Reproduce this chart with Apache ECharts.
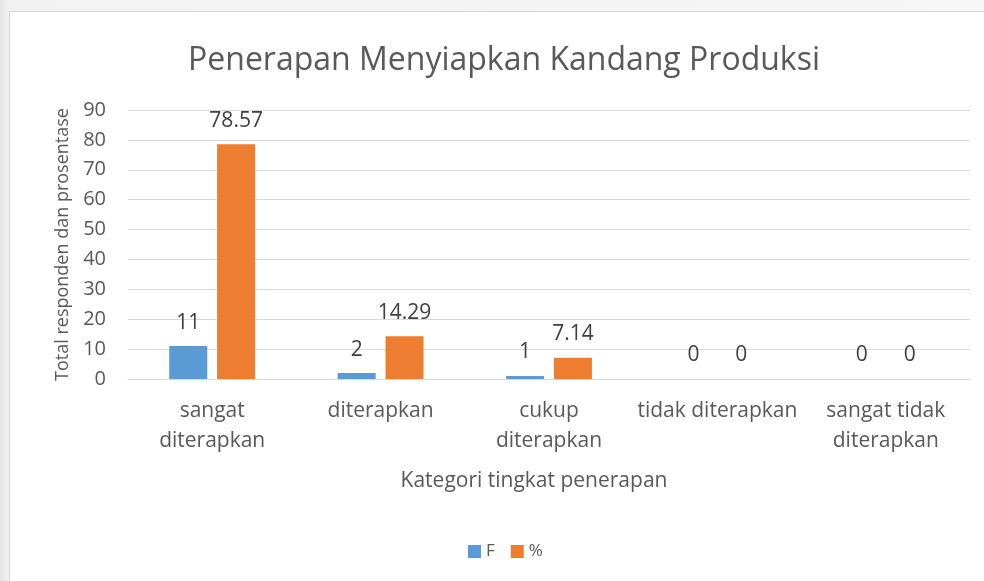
<!DOCTYPE html>
<html>
<head>
<meta charset="utf-8">
<script src="https://cdn.jsdelivr.net/npm/echarts@6/dist/echarts.min.js"></script>
<style>
  html, body { margin: 0; padding: 0; width: 984px; height: 581px; overflow: hidden; }
  body { background: linear-gradient(to right, #e4e4e4 0px, #f2f2f2 9px, #f6f6f6 100%); position: relative; }
  #frame { position: absolute; left: 9px; top: 11px; width: 990px; height: 590px; background: #fff; border-left: 1px solid #d6d6d6; border-top: 1px solid #d6d6d6; }
  #chart { position: absolute; left: 0; top: 0; width: 984px; height: 581px; }
</style>
</head>
<body>
<div id="frame"></div>
<div id="chart"></div>
<script>
const categories = ['sangat\nditerapkan', 'diterapkan', 'cukup\nditerapkan', 'tidak diterapkan', 'sangat tidak\nditerapkan'];
const seriesF = [11, 2, 1, 0, 0];
const seriesPct = [78.57, 14.29, 7.14, 0, 0];
const seriesNames = ['F', '%'];
const titleText = 'Penerapan Menyiapkan Kandang Produksi';
const yAxisTitle = 'Total responden dan prosentase';
const xAxisTitle = 'Kategori tingkat penerapan';

const FONT = '"Open Sans", sans-serif';
const chart = echarts.init(document.getElementById('chart'), null, { renderer: 'canvas' });
const labelStyle = { show: true, position: 'top', distance: 13, color: '#404040', fontSize: 21, fontFamily: FONT };
chart.setOption({
  backgroundColor: 'transparent',
  animation: false,
  textStyle: { fontFamily: FONT },
  graphic: [
    { type: 'text', x: 504, y: 61, style: { text: titleText, fill: '#595959', font: '32px ' + FONT, textAlign: 'center', textVerticalAlign: 'middle' } },
    { type: 'text', x: 534, y: 481, style: { text: xAxisTitle, fill: '#595959', font: '21px ' + FONT, textAlign: 'center', textVerticalAlign: 'middle' } }
  ],
  legend: {
    data: seriesNames,
    left: 463, top: 538,
    itemWidth: 13, itemHeight: 13, itemGap: 16,
    icon: 'rect',
    textStyle: { color: '#595959', fontSize: 17, fontFamily: FONT, padding: [0, 0, 0, 0] }
  },
  grid: { left: 128, right: 14, top: 110, bottom: 202, containLabel: false },
  xAxis: {
    type: 'category',
    data: categories,
    axisLine: { show: true, lineStyle: { color: '#d9d9d9', width: 1 } },
    axisTick: { show: false },
    axisLabel: { color: '#595959', fontSize: 21, fontFamily: FONT, lineHeight: 30, margin: 17, interval: 0 }
  },
  yAxis: {
    type: 'value',
    min: 0, max: 90, interval: 10,
    name: yAxisTitle,
    nameLocation: 'middle',
    nameGap: 56,
    nameTextStyle: { color: '#595959', fontSize: 18, fontFamily: FONT },
    axisLine: { show: false },
    axisTick: { show: false },
    axisLabel: { color: '#595959', fontSize: 20, fontFamily: FONT, margin: 22 },
    splitLine: { lineStyle: { color: '#d9d9d9', width: 1 } }
  },
  series: [
    { name: seriesNames[0], type: 'bar', data: seriesF, barWidth: 38, barGap: '26%', itemStyle: { color: '#5b9bd5' }, label: labelStyle },
    { name: seriesNames[1], type: 'bar', data: seriesPct, barWidth: 38, itemStyle: { color: '#ed7d31' }, label: labelStyle }
  ]
});
</script>
</body>
</html>
